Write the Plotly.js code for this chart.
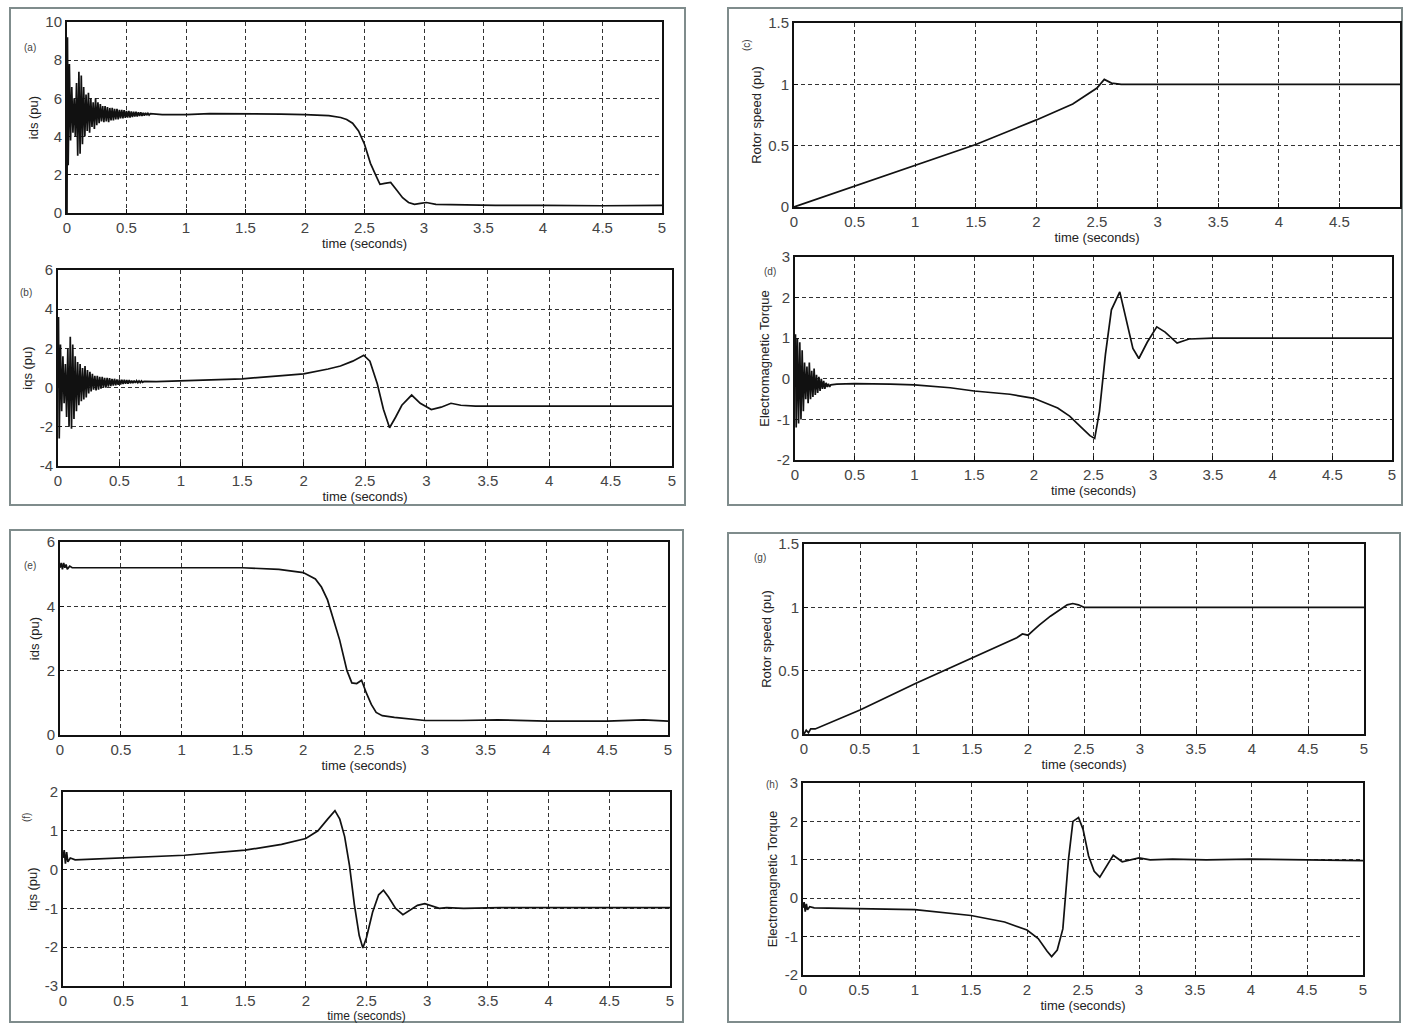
<!DOCTYPE html>
<html>
<head>
<meta charset="utf-8">
<script src="https://cdn.plot.ly/plotly-3.0.1.min.js"></script>
<style>html,body{margin:0;padding:0;background:#fff;}#chart{width:1406px;height:1025px;}</style>
</head>
<body>
<div id="chart"></div>
<script>
// ---------- DATA ----------
const xTickVals = [0, 0.5, 1, 1.5, 2, 2.5, 3, 3.5, 4, 4.5, 5];
const xTickText = ["0", "0.5", "1", "1.5", "2", "2.5", "3", "3.5", "4", "4.5", "5"];

// (a) ids (pu)
const tA = [0, 0.004, 0.01, 0.02, 0.03, 0.04, 0.05, 0.06, 0.07, 0.08, 0.09, 0.10, 0.11, 0.12, 0.13, 0.14, 0.15, 0.16, 0.17, 0.18, 0.19, 0.20, 0.21, 0.22, 0.23, 0.24, 0.25, 0.26, 0.27, 0.28, 0.29, 0.30,
  0.31, 0.32, 0.33, 0.34, 0.35, 0.36, 0.37, 0.38, 0.39, 0.40, 0.41, 0.42, 0.43, 0.44, 0.45, 0.46, 0.47, 0.48, 0.49, 0.50,
  0.51, 0.52, 0.53, 0.54, 0.55, 0.56, 0.57, 0.58, 0.59, 0.60, 0.61, 0.62, 0.63, 0.64, 0.65, 0.66, 0.67, 0.68, 0.69, 0.70,
  0.80, 1.0, 1.2, 1.5, 1.8, 2.0, 2.2, 2.3, 2.35, 2.4, 2.45, 2.5, 2.55, 2.6, 2.63, 2.67, 2.72, 2.77, 2.82, 2.87, 2.92, 2.97, 3.02, 3.1, 3.3, 3.6, 4.0, 4.5, 5.0];
const idsA = [0, 9.2, 2.5, 7.8, 3.8, 6.6, 4.2, 6.0, 4.0, 6.8, 3.0, 7.4, 3.1, 7.2, 3.6, 6.6, 4.0, 6.2, 4.3, 6.3, 4.2, 6.0, 4.5, 5.8, 4.4, 6.0, 4.6, 5.8, 4.7, 5.7, 4.8, 5.6,
  4.75, 5.6, 4.8, 5.55, 4.75, 5.5, 4.85, 5.5, 4.85, 5.45, 4.9, 5.45, 4.9, 5.4, 4.95, 5.4, 4.95, 5.38, 4.98, 5.35,
  5.0, 5.35, 5.0, 5.32, 5.02, 5.3, 5.05, 5.3, 5.05, 5.28, 5.08, 5.27, 5.08, 5.25, 5.1, 5.24, 5.12, 5.22, 5.13, 5.2,
  5.15, 5.15, 5.2, 5.2, 5.18, 5.15, 5.1, 5.0, 4.9, 4.7, 4.3, 3.6, 2.6, 1.9, 1.5, 1.55, 1.6, 1.2, 0.8, 0.55, 0.45, 0.5, 0.55, 0.45, 0.42, 0.4, 0.4, 0.38, 0.4];

// (b) iqs (pu)
const tB = [0, 0.004, 0.01, 0.02, 0.03, 0.04, 0.05, 0.06, 0.07, 0.08, 0.09, 0.10, 0.11, 0.12, 0.13, 0.14, 0.15, 0.16, 0.17, 0.18, 0.19, 0.20, 0.21, 0.22, 0.23, 0.24, 0.25, 0.26, 0.27, 0.28, 0.29, 0.30,
  0.31, 0.32, 0.33, 0.34, 0.35, 0.36, 0.37, 0.38, 0.39, 0.40, 0.41, 0.42, 0.43, 0.44, 0.45, 0.46, 0.47, 0.48, 0.49, 0.50,
  0.51, 0.52, 0.53, 0.54, 0.55, 0.56, 0.57, 0.58, 0.59, 0.60, 0.61, 0.62, 0.63, 0.64, 0.65, 0.66, 0.67, 0.68, 0.69, 0.70,
  0.8, 1.0, 1.2, 1.5, 1.8, 2.0, 2.2, 2.3, 2.4, 2.45, 2.49, 2.54, 2.6, 2.65, 2.7, 2.75, 2.8, 2.88, 2.95, 3.04, 3.12, 3.2, 3.28, 3.4, 3.6, 4.0, 4.5, 5.0];
const iqsB = [0, 3.6, -2.6, 2.2, -1.2, 1.6, -0.8, 1.2, -1.5, 2.0, -2.0, 2.6, -2.1, 2.2, -1.6, 1.6, -1.2, 1.3, -0.9, 1.2, -0.7, 1.0, -0.6, 1.1, -0.5, 0.9, -0.3, 0.8, -0.2, 0.7, -0.1, 0.6,
  -0.15, 0.6, -0.1, 0.55, -0.05, 0.55, 0.0, 0.5, 0.0, 0.5, 0.05, 0.48, 0.08, 0.45, 0.1, 0.45, 0.12, 0.42, 0.14, 0.42,
  0.16, 0.4, 0.18, 0.4, 0.2, 0.38, 0.2, 0.38, 0.22, 0.36, 0.23, 0.36, 0.24, 0.35, 0.25, 0.34, 0.26, 0.34, 0.27, 0.32,
  0.3, 0.35, 0.38, 0.45, 0.6, 0.7, 0.95, 1.1, 1.35, 1.5, 1.65, 1.35, 0.2, -1.1, -2.05, -1.5, -0.9, -0.38, -0.8, -1.12, -1.0, -0.8, -0.9, -0.95, -0.95, -0.95, -0.95, -0.95];

// (c) Rotor speed (pu)
const tC = [0, 0.5, 1.0, 1.5, 2.0, 2.3, 2.5, 2.56, 2.62, 2.7, 2.8, 3.0, 4.0, 5.0];
const speedC = [0, 0.17, 0.34, 0.51, 0.71, 0.84, 0.97, 1.04, 1.01, 1.0, 1.0, 1.0, 1.0, 1.0];

// (d) Electromagnetic Torque
const tD = [0, 0.004, 0.01, 0.02, 0.03, 0.04, 0.05, 0.06, 0.07, 0.08, 0.09, 0.10, 0.11, 0.12, 0.13, 0.14, 0.15, 0.16, 0.17, 0.18, 0.19, 0.20, 0.21, 0.22, 0.23, 0.24, 0.25, 0.26, 0.27, 0.28, 0.29, 0.30,
  0.35, 0.5, 0.8, 1.0, 1.3, 1.5, 1.8, 2.0, 2.2, 2.3, 2.4, 2.47, 2.51, 2.55, 2.6, 2.65, 2.72, 2.78, 2.83, 2.88, 2.95, 3.03, 3.1, 3.2, 3.3, 3.5, 4.0, 4.5, 5.0];
const torqueD = [0, 1.1, -1.2, 1.0, -1.1, 0.9, -1.0, 0.7, -0.8, 0.4, -0.5, 0.3, -0.6, 0.4, -0.5, 0.2, -0.45, 0.25, -0.4, 0.1, -0.35, 0.05, -0.3, 0.0, -0.25, -0.05, -0.25, -0.1, -0.2, -0.12, -0.2, -0.15,
  -0.13, -0.12, -0.13, -0.15, -0.22, -0.3, -0.38, -0.48, -0.72, -0.92, -1.2, -1.4, -1.47, -0.8, 0.6, 1.7, 2.14, 1.4, 0.75, 0.5, 0.9, 1.28, 1.15, 0.88, 0.98, 1.0, 1.0, 1.0, 1.0];

// (e) ids (pu)
const tE = [0, 0.01, 0.02, 0.03, 0.04, 0.05, 0.06, 0.08, 0.1, 0.5, 1.0, 1.5, 1.8, 2.0, 2.1, 2.15, 2.2, 2.25, 2.3, 2.36, 2.4, 2.44, 2.48, 2.52, 2.56, 2.6, 2.65, 2.75, 2.9, 3.0, 3.3, 3.6, 4.0, 4.5, 4.8, 5.0];
const idsE = [5.2, 5.35, 5.15, 5.35, 5.2, 5.3, 5.15, 5.25, 5.2, 5.2, 5.2, 5.2, 5.15, 5.05, 4.85, 4.6, 4.2, 3.6, 2.95, 2.0, 1.62, 1.6, 1.7, 1.3, 0.95, 0.7, 0.6, 0.55, 0.5, 0.45, 0.45, 0.47, 0.43, 0.43, 0.47, 0.43];

// (f) iqs (pu)
const tF = [0, 0.01, 0.02, 0.03, 0.04, 0.06, 0.1, 0.3, 0.5, 1.0, 1.5, 1.8, 2.0, 2.1, 2.18, 2.24, 2.28, 2.32, 2.36, 2.4, 2.44, 2.47, 2.5, 2.55, 2.6, 2.64, 2.68, 2.74, 2.8, 2.86, 2.92, 2.98, 3.04, 3.1, 3.16, 3.3, 3.6, 4.0, 4.5, 5.0];
const iqsF = [0.3, 0.5, 0.15, 0.45, 0.2, 0.3, 0.25, 0.28, 0.3, 0.37, 0.5, 0.65, 0.8, 1.0, 1.3, 1.52, 1.3, 0.85, 0.1, -0.9, -1.7, -2.02, -1.75, -1.1, -0.65, -0.53, -0.7, -1.0, -1.16, -1.05, -0.92, -0.88, -0.95, -1.0, -0.98, -1.0, -0.98, -0.98, -0.98, -0.98];

// (g) Rotor speed (pu)
const tG = [0, 0.02, 0.04, 0.06, 0.1, 0.5, 1.0, 1.5, 1.9, 1.95, 2.0, 2.05, 2.1, 2.2, 2.3, 2.35, 2.4, 2.45, 2.5, 2.6, 3.0, 4.0, 5.0];
const speedG = [0, 0.03, 0.01, 0.04, 0.04, 0.19, 0.4, 0.6, 0.76, 0.79, 0.78, 0.82, 0.86, 0.93, 0.99, 1.02, 1.03, 1.02, 1.0, 1.0, 1.0, 1.0, 1.0];

// (h) Electromagnetic Torque
const tH = [0, 0.01, 0.02, 0.03, 0.04, 0.06, 0.1, 0.5, 1.0, 1.5, 1.8, 2.0, 2.1, 2.18, 2.22, 2.27, 2.32, 2.37, 2.41, 2.46, 2.5, 2.55, 2.6, 2.65, 2.7, 2.77, 2.85, 2.92, 3.0, 3.1, 3.3, 3.6, 4.0, 4.5, 5.0];
const torqueH = [-0.25, -0.1, -0.35, -0.15, -0.3, -0.22, -0.25, -0.27, -0.3, -0.45, -0.62, -0.83, -1.05, -1.38, -1.52, -1.35, -0.8, 1.0, 2.0, 2.1, 1.8, 1.1, 0.7, 0.55, 0.8, 1.12, 0.95, 1.0, 1.05, 1.0, 1.02, 1.0, 1.02, 1.0, 0.98];

const yTicksA = [0, 2, 4, 6, 8, 10];
const yTicksB = [-4, -2, 0, 2, 4, 6];
const yTicksC = [0, 0.5, 1, 1.5];
const yTicksD = [-2, -1, 0, 1, 2, 3];
const yTicksE = [0, 2, 4, 6];
const yTicksF = [-3, -2, -1, 0, 1, 2];
const yTicksG = [0, 0.5, 1, 1.5];
const yTicksH = [-2, -1, 0, 1, 2, 3];

const panelLabels = ["(a)", "(b)", "(c)", "(d)", "(e)", "(f)", "(g)", "(h)"];
const yTitles = ["ids (pu)", "iqs (pu)", "Rotor speed (pu)", "Electromagnetic Torque", "ids (pu)", "iqs (pu)", "Rotor speed (pu)", "Electromagnetic Torque"];
const xTitle = "time (seconds)";

// ---------- LAYOUT ----------
const W = 1406, H = 1025;
const FONT = "Liberation Sans, Arial, Helvetica, sans-serif";

const panels = [
  {t: tA, v: idsA,    px: [67, 662],   py: [22, 213],  yr: [0, 10],  yt: yTicksA, lab: [30, 47, 0]},
  {t: tB, v: iqsB,    px: [58, 672],   py: [270, 466], yr: [-4, 6],  yt: yTicksB, lab: [26, 292, 0]},
  {t: tC, v: speedC,  px: [794, 1400], py: [23, 207],  yr: [0, 1.5], yt: yTicksC, lab: [746, 45, -90], xt: 10},
  {t: tD, v: torqueD, px: [795, 1392], py: [257, 460], yr: [-2, 3],  yt: yTicksD, lab: [770, 271, 0]},
  {t: tE, v: idsE,    px: [60, 668],   py: [542, 735], yr: [0, 6],   yt: yTicksE, lab: [30, 565, 0]},
  {t: tF, v: iqsF,    px: [63, 670],   py: [792, 986], yr: [-3, 2],  yt: yTicksF, lab: [26, 818, -90], xs: 12},
  {t: tG, v: speedG,  px: [804, 1364], py: [544, 734], yr: [0, 1.5], yt: yTicksG, lab: [760, 557, 0]},
  {t: tH, v: torqueH, px: [803, 1363], py: [783, 975], yr: [-2, 3],  yt: yTicksH, lab: [772, 784, 0]}
];

const traces = [];
const layout = {
  width: W, height: H,
  margin: {l: 0, r: 0, t: 0, b: 0},
  paper_bgcolor: "#ffffff",
  plot_bgcolor: "#ffffff",
  showlegend: false,
  font: {family: FONT, color: "#333"},
  annotations: [],
  shapes: []
};

panels.forEach((p, i) => {
  const n = i + 1;
  const xk = n === 1 ? "xaxis" : "xaxis" + n;
  const yk = n === 1 ? "yaxis" : "yaxis" + n;
  const xr = n === 1 ? "x" : "x" + n;
  const yr = n === 1 ? "y" : "y" + n;
  traces.push({
    type: "scatter", mode: "lines", x: p.t, y: p.v,
    xaxis: xr, yaxis: yr,
    line: {color: "#111", width: 1.7},
    hoverinfo: "skip"
  });
  const nx = p.xt || xTickVals.length;
  layout[xk] = {
    domain: [p.px[0] / W, p.px[1] / W],
    anchor: yr,
    range: [0, 5],
    tickmode: "array",
    tickvals: xTickVals.slice(0, nx),
    ticktext: xTickText.slice(0, nx),
    ticks: "inside", ticklen: 4, tickcolor: "#111",
    showline: true, mirror: true, linecolor: "#111", linewidth: 2,
    showgrid: true, gridcolor: "#333", gridwidth: 1, griddash: "4px,3px",
    zeroline: false,
    tickfont: {size: 15, color: "#444", family: FONT},
    title: {text: xTitle, font: {size: p.xs || 13, color: "#222", family: FONT}, standoff: 1},
    automargin: false, fixedrange: true
  };
  layout[yk] = {
    domain: [1 - p.py[1] / H, 1 - p.py[0] / H],
    anchor: xr,
    range: p.yr,
    tickmode: "array",
    tickvals: p.yt,
    ticktext: p.yt.map(String),
    ticks: "inside", ticklen: 4, tickcolor: "#111",
    showline: true, mirror: true, linecolor: "#111", linewidth: 2,
    showgrid: true, gridcolor: "#333", gridwidth: 1, griddash: "4px,3px",
    zeroline: false,
    tickfont: {size: 15, color: "#444", family: FONT},
    title: {text: yTitles[i], font: {size: 13, color: "#222", family: FONT}, standoff: 4},
    automargin: false, fixedrange: true
  };
  layout.annotations.push({
    xref: "paper", yref: "paper",
    x: p.lab[0] / W, y: 1 - p.lab[1] / H,
    xanchor: "center", yanchor: "middle",
    text: panelLabels[i], showarrow: false, textangle: p.lab[2],
    font: {size: 10, color: "#444", family: FONT}
  });
});

// quadrant frames
const boxes = [[10, 8, 685, 505], [728, 8, 1402, 505], [10, 530, 683, 1022], [728, 533, 1400, 1022]];
boxes.forEach(b => {
  layout.shapes.push({
    type: "rect", xref: "paper", yref: "paper",
    x0: b[0] / W, x1: b[2] / W, y0: 1 - b[3] / H, y1: 1 - b[1] / H,
    line: {color: "#7f8c8c", width: 2}, fillcolor: "rgba(0,0,0,0)", layer: "below"
  });
});

Plotly.newPlot("chart", traces, layout, {staticPlot: true, displayModeBar: false});
</script>
</body>
</html>
